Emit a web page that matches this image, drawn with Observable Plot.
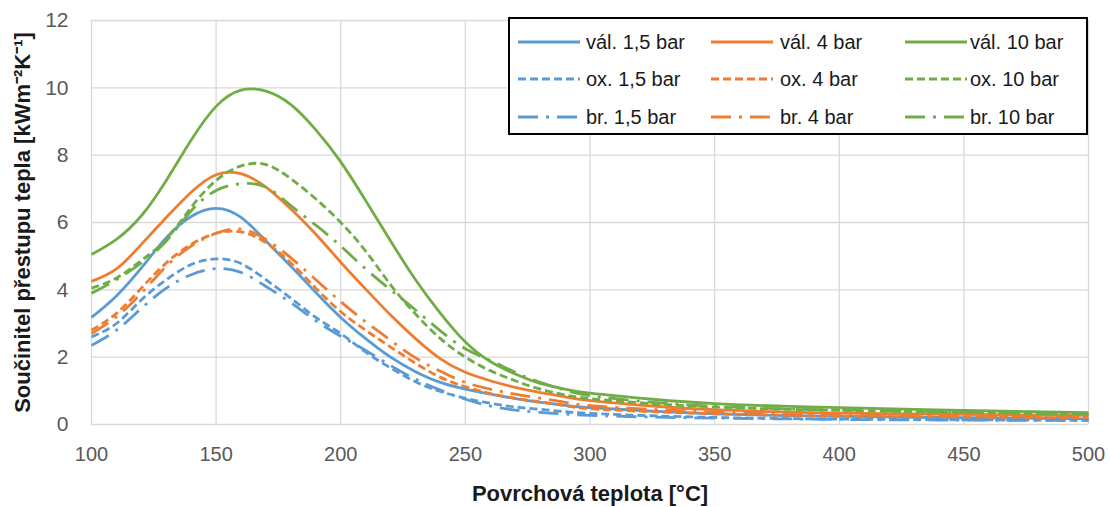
<!DOCTYPE html>
<html><head><meta charset="utf-8">
<script src="https://cdn.jsdelivr.net/npm/d3@7"></script>
<script src="https://cdn.jsdelivr.net/npm/@observablehq/plot@0.6"></script>
<style>
body{margin:0;background:#fff;}
#wrap{position:relative;width:1110px;height:507px;font-family:"Liberation Sans",Arial,sans-serif;}
#legend{position:absolute;left:508px;top:17px;width:580px;height:118px;border:2px solid #000;background:#fff;box-sizing:border-box;}
.li{position:absolute;font-size:20px;color:#1a1a1a;white-space:nowrap;line-height:20px;}
.ls{position:absolute;}
</style></head>
<body><div id="wrap"><div id="chart"></div><div id="legend"></div></div>
<script>
// ---- data ----
const temps = [100,110,120,130,140,150,160,170,180,190,200,210,220,230,240,250,260,270,280,290,300,325,350,375,400,450,500];
const val15 = [3.18,3.82,4.65,5.55,6.18,6.42,6.15,5.45,4.7,3.92,3.18,2.55,2.0,1.57,1.25,1.05,0.9,0.77,0.66,0.57,0.5,0.4,0.32,0.27,0.24,0.2,0.17];
const val4  = [4.25,4.62,5.35,6.15,6.9,7.42,7.45,7.05,6.4,5.65,4.82,4.02,3.25,2.55,1.95,1.55,1.3,1.1,0.95,0.82,0.71,0.55,0.44,0.38,0.34,0.3,0.27];
const val10 = [5.05,5.5,6.2,7.25,8.45,9.45,9.93,9.9,9.5,8.75,7.8,6.65,5.45,4.3,3.3,2.45,1.87,1.5,1.22,1.05,0.93,0.75,0.62,0.55,0.5,0.42,0.35];
const ox15  = [2.6,3.0,3.7,4.3,4.75,4.92,4.78,4.3,3.75,3.18,2.7,2.15,1.68,1.27,0.98,0.78,0.63,0.52,0.45,0.38,0.33,0.26,0.21,0.18,0.16,0.14,0.12];
const ox4   = [2.8,3.3,4.05,4.8,5.35,5.68,5.72,5.4,4.8,4.05,3.35,2.8,2.3,1.82,1.4,1.12,0.92,0.78,0.67,0.56,0.47,0.38,0.32,0.28,0.25,0.22,0.2];
const ox10  = [4.05,4.35,4.87,5.5,6.45,7.25,7.68,7.72,7.3,6.7,6.0,5.15,4.15,3.28,2.55,2.0,1.6,1.3,1.05,0.88,0.77,0.62,0.52,0.46,0.42,0.36,0.31];
const br15  = [2.35,2.8,3.45,4.05,4.45,4.63,4.52,4.1,3.62,3.08,2.62,2.2,1.75,1.35,1.02,0.75,0.55,0.43,0.36,0.31,0.27,0.22,0.19,0.17,0.15,0.13,0.12];
const br4   = [2.7,3.2,3.9,4.7,5.3,5.68,5.8,5.5,4.95,4.3,3.65,3.05,2.5,1.98,1.58,1.25,1.05,0.9,0.78,0.66,0.56,0.45,0.37,0.32,0.29,0.25,0.23];
const br10  = [3.9,4.3,4.8,5.45,6.35,6.95,7.15,7.05,6.5,5.92,5.3,4.62,4.0,3.4,2.78,2.25,1.9,1.55,1.25,1.02,0.86,0.66,0.54,0.47,0.43,0.37,0.31];
const seriesNames = ["vál. 1,5 bar","vál. 4 bar","vál. 10 bar","ox. 1,5 bar","ox. 4 bar","ox. 10 bar","br. 1,5 bar","br. 4 bar","br. 10 bar"];
const seriesValues = [val15,val4,val10,ox15,ox4,ox10,br15,br4,br10];
const xTicks = [100,150,200,250,300,350,400,450,500];
const yTicks = [0,2,4,6,8,10,12];
const xTitle = "Povrchová teplota [°C]";
const yTitle = "Součinitel přestupu tepla [kWm⁻²K⁻¹]";

// ---- styles ----
const colors = ["#5B9BD5","#ED7D31","#70AD47"];
const dashes = [null,"8,4","20,8,3,8"];
const series = seriesNames.map((name,i)=>({name, values: seriesValues[i], color: colors[i%3], dash: dashes[Math.floor(i/3)]}));

const lineMarks = series.map(s => Plot.line(temps.map((t,j)=>({T:t, v:s.values[j]})), {
  x:"T", y:"v", stroke:s.color, strokeWidth:2.8, strokeDasharray: s.dash || undefined,
  strokeLinecap:"butt", curve:"natural"
}));

const fontFam = "Liberation Sans, Arial, sans-serif";
const plot = Plot.plot({
  width:1110, height:507,
  marginLeft:91, marginRight:22, marginTop:20, marginBottom:83,
  style:{fontFamily:fontFam, fontSize:"20px", background:"#fff"},
  x:{domain:[100,500]},
  y:{domain:[0,12]},
  marks:[
    Plot.gridX(xTicks,{stroke:"#d9d9d9", strokeOpacity:1, strokeWidth:1.3}),
    Plot.gridY(yTicks,{stroke:"#d9d9d9", strokeOpacity:1, strokeWidth:1.3}),
    Plot.axisX(xTicks,{tickSize:0, tickPadding:22, fill:"#595959", fontSize:20, label:null}),
    Plot.axisY(yTicks,{tickSize:0, tickPadding:23, fill:"#595959", fontSize:21, label:null}),
    ...lineMarks,
    Plot.text([xTitle],{text:d=>d, frameAnchor:"bottom", dy:69, fontWeight:"bold", fontSize:22, fill:"#1a1a1a", lineAnchor:"middle"}),
    Plot.text([yTitle],{text:d=>d, frameAnchor:"left", dx:-69, rotate:-90, fontWeight:"bold", fontSize:22, fill:"#1a1a1a", lineAnchor:"middle", textAnchor:"middle"})
  ]
});
document.getElementById("chart").appendChild(plot);

// ---- legend ----
const leg = document.getElementById("legend");
const colSample = [8, 201, 395];
const colText = [76, 270, 460];
const rowY = [23, 60, 98];
series.forEach((s,i)=>{
  const c = i%3, r = Math.floor(i/3);
  const svgNS = "http://www.w3.org/2000/svg";
  const sv = document.createElementNS(svgNS,"svg");
  sv.setAttribute("width",62); sv.setAttribute("height",6);
  sv.setAttribute("class","ls");
  sv.style.left = colSample[c]+"px"; sv.style.top = (rowY[r]-3)+"px";
  const ln = document.createElementNS(svgNS,"line");
  ln.setAttribute("x1",0); ln.setAttribute("x2",62); ln.setAttribute("y1",3); ln.setAttribute("y2",3);
  ln.setAttribute("stroke",s.color); ln.setAttribute("stroke-width",2.8);
  if (s.dash) ln.setAttribute("stroke-dasharray", s.dash);
  sv.appendChild(ln); leg.appendChild(sv);
  const tx = document.createElement("div");
  tx.className="li"; tx.textContent = s.name;
  tx.style.left = colText[c]+"px"; tx.style.top = (rowY[r]-10)+"px";
  leg.appendChild(tx);
});
</script></body></html>
